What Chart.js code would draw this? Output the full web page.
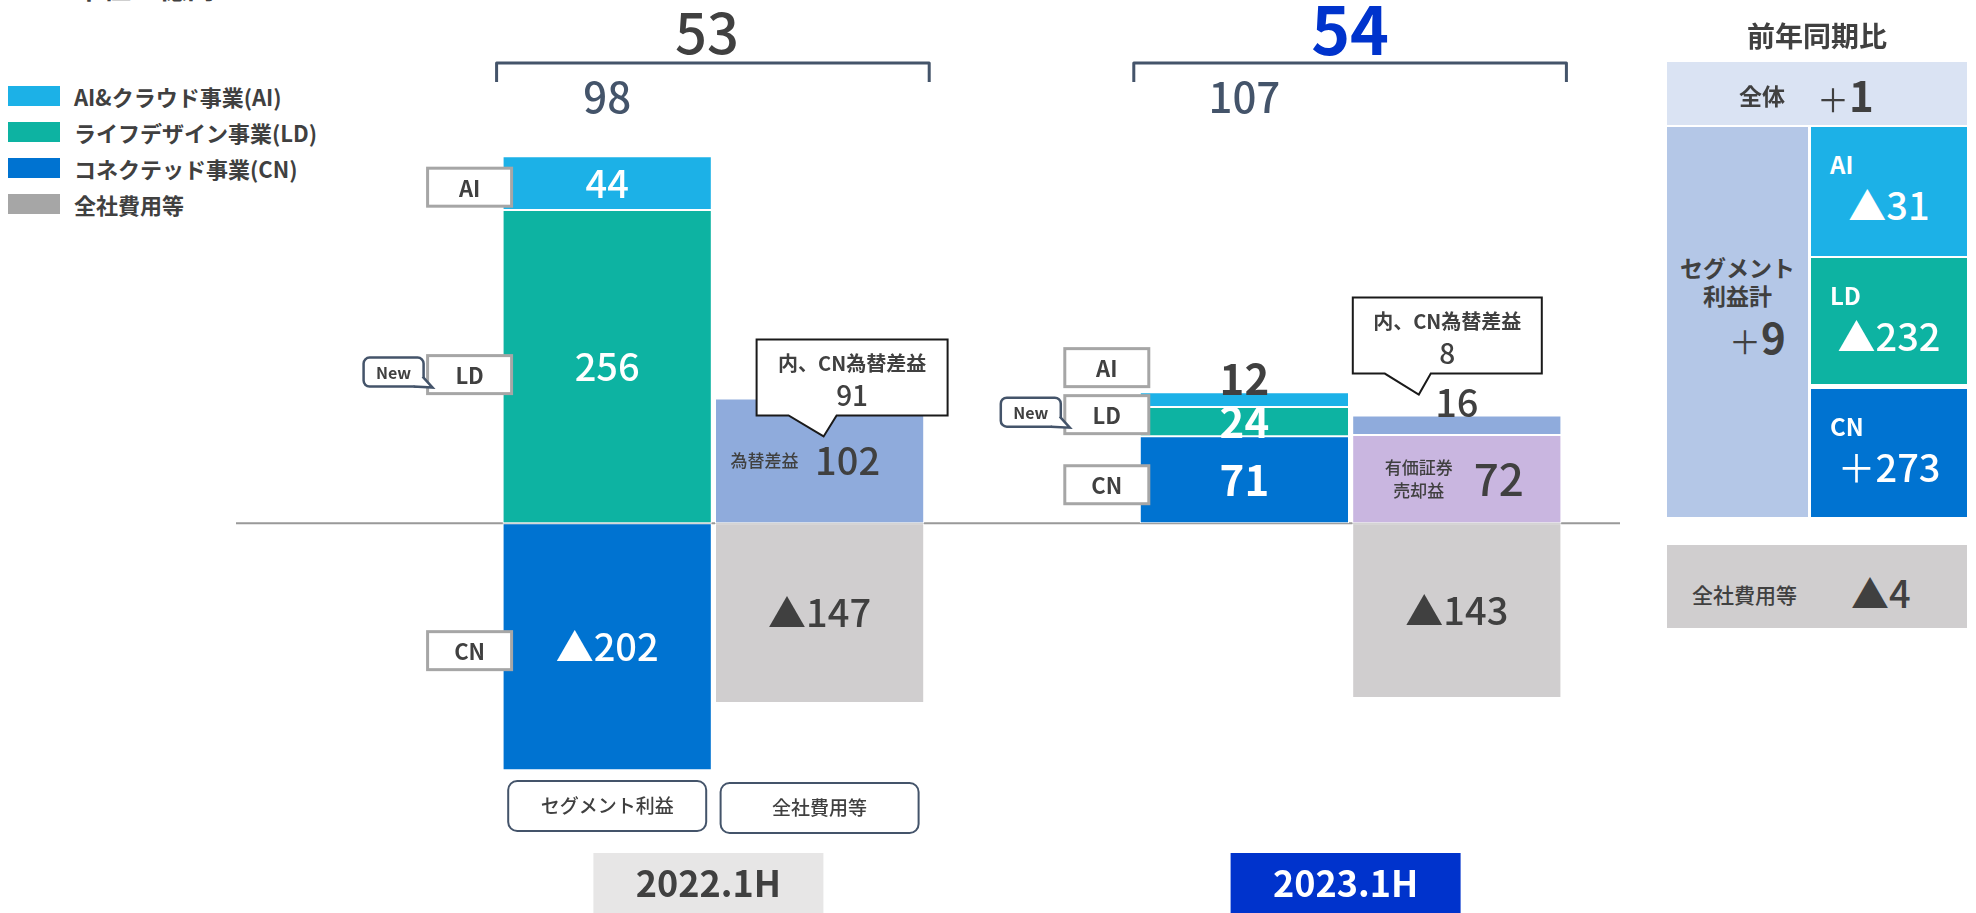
<!DOCTYPE html>
<html lang="ja">
<head>
<meta charset="utf-8">
<title>セグメント利益 2022.1H / 2023.1H</title>
<script src="https://cdn.jsdelivr.net/npm/chart.js@4.4.1/dist/chart.umd.min.js"></script>
<style>
    html, body { margin: 0; padding: 0; background: #fff; width: 1976px; height: 913px; overflow: hidden;
        font-family: "Noto Sans CJK JP", "Noto Sans", sans-serif; color: #404040; }
    #chartWrap { position: absolute; left: 0; top: 0; width: 1976px; height: 913px; }
    .unit { position: absolute; left: 75px; top: -27px; font-size: 28px; line-height: 28px; font-weight: bold; }
    .legend-row { position: absolute; left: 8px; height: 22px; display: flex; align-items: center; }
    .legend-row i { display: block; width: 52px; height: 20px; margin-right: 14px; }
    .legend-row span { font-size: 22px; font-weight: bold; white-space: nowrap; }
    .cell { position: absolute; box-sizing: border-box; }
    .abs { position: absolute; white-space: nowrap; }
    .thin { font-weight: normal; }
</style>
</head>
<body>
<div class="unit">単位：億円</div>
<div id="legend"></div>
<div id="chartWrap"><canvas id="chart" width="1976" height="913"></canvas></div>
<div id="yoy"></div>

<script>
// 単位：億円
const categories = ['2022 セグメント', '2022 全社', '', '2023 セグメント', '2023 全社'];
const periods = ['2022.1H', '2023.1H'];
const aiProfit = [44, null, null, 12, null];
const ldProfit = [256, null, null, 24, null];
const cnProfit = [-202, null, null, 71, null];
const securitiesGain = [null, null, null, null, 72];
const fxGain = [null, 102, null, null, 16];
const corporateCost = [null, -147, null, null, -143];
const fxGainCN = [null, 91, null, null, 8];
const segmentTotal = [98, 107];
const grandTotal = [53, 54];
const bottomTags = ['セグメント利益', '全社費用等', null, null, null];
const legendLabels = ['AI&クラウド事業(AI)', 'ライフデザイン事業(LD)', 'コネクテッド事業(CN)', '全社費用等'];

// 前年同期比
const yoyTotal = 1;
const yoySegmentTotal = 9;
const yoySegmentNames = ['AI', 'LD', 'CN'];
const yoySegments = [-31, -232, 273];
const yoyCorporate = -4;

const FONT = '"Noto Sans CJK JP", "Noto Sans", sans-serif';
const DARK = '#404040';
const SLATE = '#44546A';
const COLORS = {
    ai: '#1CB1E7', ld: '#0DB3A2', cn: '#0073D1', corp: '#D0CECF',
    legendCorp: '#A6A6A6', fx: '#8FABDC', sec: '#C9B6E0'
};

const fmt = v => v < 0 ? '▲' + Math.abs(v) : String(v);

// legend
document.getElementById('legend').innerHTML = legendLabels.map((name, i) => `
    <div class="legend-row" style="top:${85 + i * 36}px">
        <i style="background:${[COLORS.ai, COLORS.ld, COLORS.cn, COLORS.legendCorp][i]}"></i>
        <span>${name}</span>
    </div>`).join('');

// 前年同期比 panel
const signed = v => v < 0 ? `▲${Math.abs(v)}` : `<span class="thin">＋</span>${v}`;
const segCells = yoySegmentNames.map((name, i) => {
    const top = [127, 258, 389][i];
    const h = [129, 126, 128][i];
    const bg = [COLORS.ai, COLORS.ld, COLORS.cn][i];
    return `
    <div class="cell" style="left:1811px;top:${top}px;width:156px;height:${h}px;background:${bg};color:#fff">
        <div class="abs" style="left:19px;top:24px;font-size:24px;font-weight:bold;line-height:26px">${name}</div>
        <div class="abs" style="left:0;width:156px;text-align:center;top:55px;font-size:38px;font-weight:500;line-height:44px">${signed(yoySegments[i])}</div>
    </div>`;
}).join('');

document.getElementById('yoy').innerHTML = `
    <div class="abs" style="left:1667px;width:300px;top:15px;text-align:center;font-size:28px;font-weight:bold;line-height:40px">前年同期比</div>
    <div class="cell" style="left:1667px;top:62px;width:300px;height:63px;background:#DAE3F3">
        <div class="abs" style="left:72px;top:20px;font-size:23px;font-weight:bold;line-height:26px">全体</div>
        <div class="abs" style="left:150px;top:8px;font-size:42px;font-weight:bold;line-height:48px"><span class="thin" style="font-size:32px">＋</span>${yoyTotal}</div>
    </div>
    <div class="cell" style="left:1667px;top:127px;width:141px;height:390px;background:#B4C7E7">
        <div class="abs" style="left:0;width:141px;text-align:center;top:126px;font-size:23px;font-weight:bold;line-height:28px">セグメント<br>利益計</div>
        <div class="abs" style="left:62px;top:185px;font-size:42px;font-weight:bold;line-height:48px"><span class="thin" style="font-size:32px">＋</span>${yoySegmentTotal}</div>
    </div>
    ${segCells}
    <div class="cell" style="left:1667px;top:545px;width:300px;height:83px;background:${COLORS.corp}">
        <div class="abs" style="left:25px;top:36px;font-size:21px;line-height:26px;font-weight:500">全社費用等</div>
        <div class="abs" style="left:184px;top:25px;font-size:38px;font-weight:500;line-height:44px">${fmt(yoyCorporate)}</div>
    </div>`;

// layout of annotations relative to bars
const tagLayout = [
    { ds: 'AI', idx: 0, dy: 4 }, { ds: 'LD', idx: 0, dy: 8, isNew: true }, { ds: 'CN', idx: 0, dy: 4 },
    { ds: 'AI', idx: 3, dy: -32 }, { ds: 'LD', idx: 3, dy: -7, isNew: true }, { ds: 'CN', idx: 3, dy: 5 }
];
const calloutLayout = {
    1: { left: -63, top: -59, w: 191, h: 76, baseL: -31, baseR: 17, tipX: 4, tipY: 38 },
    4: { left: -104, top: -118, w: 189, h: 76, baseL: -72, baseR: -26, tipX: -38, tipY: -21 }
};
const prefixLayout = {
    '為替差益': { lines: ['為替差益'], textDx: -55, numDx: 28 },
    '有価証券売却益': { lines: ['有価証券', '売却益'], textDx: -38, numDx: 42 }
};

function label(ctx, str, x, y, font, color, align = 'center') {
    ctx.font = font + ' ' + FONT;
    ctx.fillStyle = color;
    ctx.textAlign = align;
    ctx.textBaseline = 'middle';
    ctx.fillText(str, x, y);
}

function roundRect(ctx, x, y, w, h, r) {
    ctx.beginPath();
    ctx.moveTo(x + r, y);
    ctx.arcTo(x + w, y, x + w, y + h, r);
    ctx.arcTo(x + w, y + h, x, y + h, r);
    ctx.arcTo(x, y + h, x, y, r);
    ctx.arcTo(x, y, x + w, y, r);
    ctx.closePath();
}

const annotations = {
    id: 'annotations',
    beforeDatasetsDraw(chart) {
        const { ctx } = chart;
        const y0 = chart.scales.y.getPixelForValue(0);
        ctx.save();
        ctx.strokeStyle = '#999999';
        ctx.lineWidth = 2;
        ctx.beginPath();
        ctx.moveTo(236, y0);
        ctx.lineTo(1620, y0);
        ctx.stroke();
        ctx.restore();
    },
    afterDatasetsDraw(chart) {
        const { ctx } = chart;
        const metaOf = name => chart.getDatasetMeta(chart.data.datasets.findIndex(d => d.label === name));
        ctx.save();

        // values on bars
        chart.data.datasets.forEach((ds, di) => {
            const meta = chart.getDatasetMeta(di);
            ds.data.forEach((v, i) => {
                if (v === null) return;
                const el = meta.data[i];
                const top = Math.min(el.y, el.base), bottom = Math.max(el.y, el.base);
                const isSeg = ds.kind === 'segment';
                const font = (isSeg && i >= 3) ? 'bold 42px' : '500 38px';
                if (bottom - top < 25) {
                    label(ctx, fmt(v), el.x, top - 13, font, DARK);
                    return;
                }
                const cy = (top + bottom) / 2;
                const pre = ds.prefix && ds.prefix[i] ? prefixLayout[ds.prefix[i]] : null;
                if (pre) {
                    pre.lines.forEach((t, k) => {
                        label(ctx, t, el.x + pre.textDx, cy + (k - (pre.lines.length - 1) / 2) * 23, '500 17px', DARK);
                    });
                    label(ctx, fmt(v), el.x + pre.numDx, cy, i >= 3 ? '500 44px' : '500 38px', DARK);
                } else {
                    label(ctx, fmt(v), el.x, cy, font, isSeg ? '#fff' : DARK);
                }
            });
        });

        // segment tags (AI / LD / CN)
        tagLayout.forEach(t => {
            const el = metaOf(t.ds).data[t.idx];
            const cy = (el.y + el.base) / 2 + t.dy;
            const right = el.x - el.width / 2 + 9;
            const bx = right - 84, by = cy - 19;
            ctx.fillStyle = '#fff';
            ctx.fillRect(bx, by, 84, 38);
            ctx.strokeStyle = '#A6A6A6';
            ctx.lineWidth = 3;
            ctx.strokeRect(bx, by, 84, 38);
            label(ctx, t.ds, bx + 42, cy + 1, 'bold 22px', DARK);
            if (t.isNew) {
                const nr = bx - 4, nx = nr - 60, ny = by + 2;
                roundRect(ctx, nx, ny, 60, 29, 6);
                ctx.fillStyle = '#fff';
                ctx.fill();
                ctx.strokeStyle = SLATE;
                ctx.lineWidth = 2.5;
                ctx.stroke();
                ctx.beginPath();
                ctx.moveTo(nr - 1, ny + 19);
                ctx.lineTo(nr + 9, ny + 30);
                ctx.lineTo(nr - 10, ny + 29);
                ctx.fillStyle = '#fff';
                ctx.fill();
                ctx.stroke();
                label(ctx, 'New', nx + 30, ny + 15, 'bold 16px', DARK);
            }
        });

        // callouts 内、CN為替差益
        const fxMeta = metaOf('為替差益');
        fxGainCN.forEach((v, i) => {
            if (v === null) return;
            const el = fxMeta.data[i];
            const c = calloutLayout[i];
            const x = el.x, y = Math.min(el.y, el.base);
            const L = x + c.left, T = y + c.top, R = L + c.w, B = T + c.h;
            ctx.beginPath();
            ctx.moveTo(L, T);
            ctx.lineTo(R, T);
            ctx.lineTo(R, B);
            ctx.lineTo(x + c.baseR, B);
            ctx.lineTo(x + c.tipX, y + c.tipY);
            ctx.lineTo(x + c.baseL, B);
            ctx.lineTo(L, B);
            ctx.closePath();
            ctx.fillStyle = '#fff';
            ctx.fill();
            ctx.strokeStyle = '#1A1A1A';
            ctx.lineWidth = 2;
            ctx.stroke();
            label(ctx, '内、CN為替差益', (L + R) / 2, T + 24, 'bold 20px', DARK);
            label(ctx, String(v), (L + R) / 2, T + 56, '500 28px', DARK);
        });

        // brackets, totals, period labels
        const aiMeta = metaOf('AI'), corpMeta = metaOf('全社費用等');
        periods.forEach((p, g) => {
            const seg = aiMeta.data[g * 3], corp = corpMeta.data[g * 3 + 1];
            const gl = seg.x - seg.width / 2, gr = corp.x + corp.width / 2;
            const bl = gl - 6, br = gr + 5, by = 63;
            ctx.strokeStyle = SLATE;
            ctx.lineWidth = 3;
            ctx.lineJoin = 'round';
            ctx.beginPath();
            ctx.moveTo(bl, by + 19);
            ctx.lineTo(bl, by);
            ctx.lineTo(br, by);
            ctx.lineTo(br, by + 19);
            ctx.stroke();

            if (g === 0) label(ctx, String(grandTotal[g]), (bl + br) / 2 - 6, 33, '500 56px', DARK);
            else label(ctx, String(grandTotal[g]), (bl + br) / 2, 30, 'bold 66px', '#0033CC');
            label(ctx, String(segmentTotal[g]), seg.x, 97, '500 42px', SLATE);

            const cx = (gl + gr) / 2 - 5;
            ctx.fillStyle = g === 0 ? '#E7E6E6' : '#0033CC';
            ctx.fillRect(cx - 115, 853, 230, 70);
            label(ctx, p, cx, 883, 'bold 36px', g === 0 ? DARK : '#fff');
        });

        // tags under bars
        bottomTags.forEach((t, i) => {
            if (!t) return;
            const el = (i === 0 ? aiMeta : corpMeta).data[i];
            const top = i === 0 ? 781 : 783;
            roundRect(ctx, el.x - 99, top, 198, 50, 9);
            ctx.fillStyle = '#fff';
            ctx.fill();
            ctx.strokeStyle = SLATE;
            ctx.lineWidth = 2;
            ctx.stroke();
            label(ctx, t, el.x, top + 25, '500 19px', DARK);
        });

        ctx.restore();
    }
};

const barStyle = {
    stack: 'total',
    categoryPercentage: 1,
    barPercentage: 0.985,
    borderColor: '#fff',
    borderWidth: 1,
    borderSkipped: false
};

new Chart(document.getElementById('chart'), {
    type: 'bar',
    data: {
        labels: categories,
        datasets: [
            { ...barStyle, label: 'CN', kind: 'segment', data: cnProfit, backgroundColor: COLORS.cn },
            { ...barStyle, label: 'LD', kind: 'segment', data: ldProfit, backgroundColor: COLORS.ld },
            { ...barStyle, label: 'AI', kind: 'segment', data: aiProfit, backgroundColor: COLORS.ai },
            { ...barStyle, label: '有価証券売却益', kind: 'corp', data: securitiesGain, backgroundColor: COLORS.sec,
              prefix: [null, null, null, null, '有価証券売却益'] },
            { ...barStyle, label: '為替差益', kind: 'corp', data: fxGain, backgroundColor: COLORS.fx,
              prefix: [null, '為替差益', null, null, null] },
            { ...barStyle, label: '全社費用等', kind: 'corp', data: corporateCost, backgroundColor: COLORS.corp }
        ]
    },
    options: {
        responsive: false,
        animation: false,
        devicePixelRatio: 1,
        layout: { padding: { left: 501, right: 413, top: 34, bottom: 23 } },
        scales: {
            x: { display: false, stacked: true },
            y: { display: false, stacked: true, min: -300, max: 400 }
        },
        plugins: {
            legend: { display: false },
            tooltip: { enabled: false }
        }
    },
    plugins: [annotations]
});
</script>
</body>
</html>
